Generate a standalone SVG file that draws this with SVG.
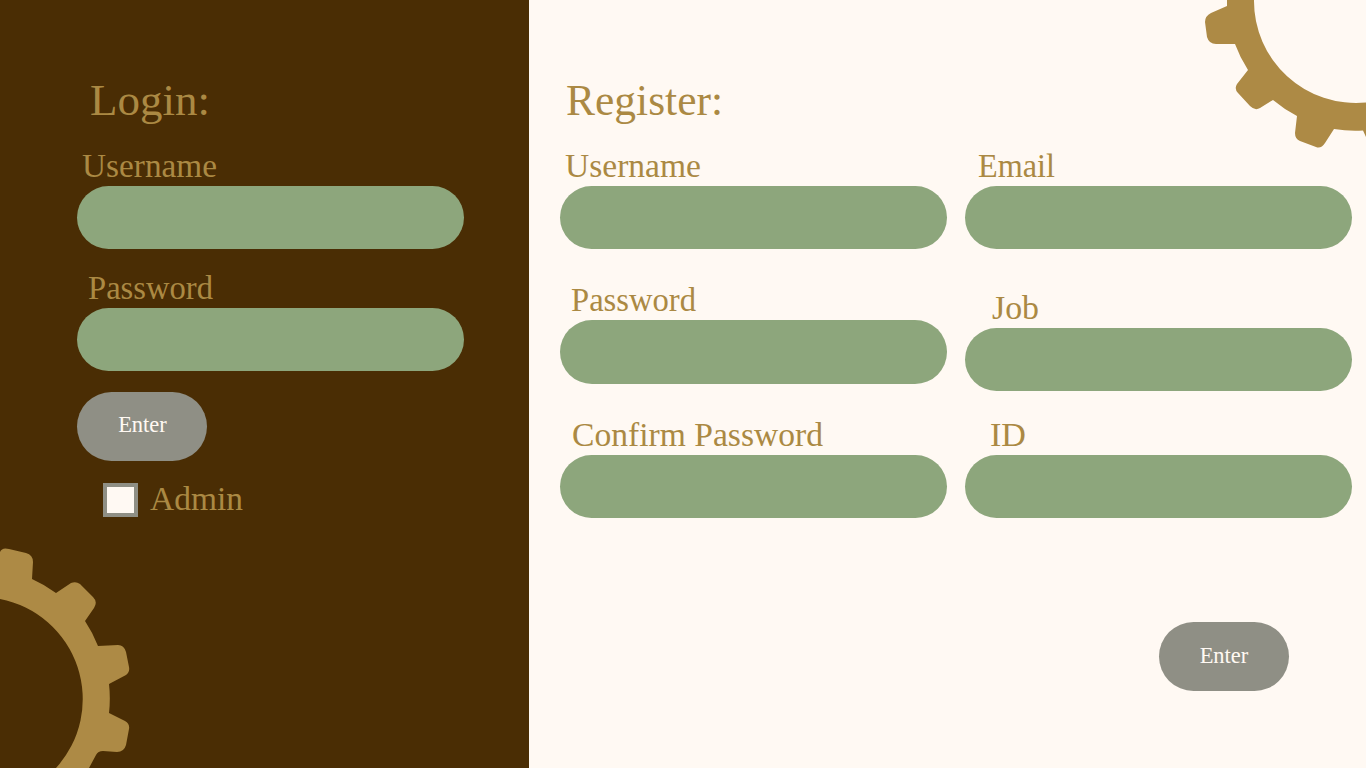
<svg xmlns="http://www.w3.org/2000/svg" width="1366" height="768" viewBox="0 0 1366 768">
<style>
.t{font-family:"Liberation Serif","Times New Roman",serif;fill:#AB8943}
.h{font-size:44px}
.l{font-size:33px}
.b{font-family:"Liberation Serif","Times New Roman",serif;font-size:22.5px;fill:#FFF9F3;text-anchor:middle}
.f{fill:#8DA67C}
.btn{fill:#8F8F85}
.g{fill:#AD8A45}
</style>
<rect width="1366" height="768" fill="#FFF9F3"/>
<rect id="login-panel" width="529" height="768" fill="#4A2D04"/>
<g id="gear-left">
<path class="g" d="M0 552Q2 547 9 549L26 553Q33 555 33 562L32 579A130 130 0 0 1 56 593L71 583Q76 581 80 584L93 597Q98 602 94 608L85 621A130 130 0 0 1 98 646L118 645Q124 645 126 652L129 667Q130 672 126 675L109 684A130 130 0 0 1 109 713L125 721Q130 724 129 729L126 745Q124 752 117 752L103 751Q98 751 96 755L89 768H56A102 102 0 0 0 0 599Z"/>
</g>
<g id="gear-right">
<path class="g" d="M1227 0V6L1211 13Q1205 16 1205 22L1207 37Q1209 44 1216 44H1235A130 130 0 0 0 1248 70L1237 84Q1234 89 1238 93L1250 106Q1255 111 1260 108L1273 100A130 130 0 0 0 1297 116L1295 133Q1295 139 1300 141L1316 147Q1321 149 1325 143L1334 129A130 130 0 0 0 1363 130.500L1366 137V102.500A102 102 0 0 1 1254 0Z"/>
</g>
<g id="login-title"><text class="t h" x="90" y="115" textLength="120" lengthAdjust="spacingAndGlyphs">Login:</text></g>
<g id="login-username"><text class="t l" x="82" y="177" textLength="135" lengthAdjust="spacingAndGlyphs">Username</text><rect class="f" x="77" y="186" width="387" height="63" rx="31.5"/></g>
<g id="login-password"><text class="t l" x="88" y="299" textLength="125" lengthAdjust="spacingAndGlyphs">Password</text><rect class="f" x="77" y="308" width="387" height="63" rx="31.5"/></g>
<g id="login-enter"><rect class="btn" x="77" y="392" width="130" height="69" rx="34.5"/><text class="b" x="142.500" y="432">Enter</text></g>
<g id="login-admin"><rect x="105" y="485" width="31" height="30" fill="#FFF9F3" stroke="#8F8F85" stroke-width="4"/><text class="t l" x="150" y="510" textLength="93" lengthAdjust="spacingAndGlyphs">Admin</text></g>
<g id="register-title"><text class="t h" x="566" y="115" textLength="157" lengthAdjust="spacingAndGlyphs">Register:</text></g>
<g id="reg-username"><text class="t l" x="565" y="177" textLength="136" lengthAdjust="spacingAndGlyphs">Username</text><rect class="f" x="560" y="186" width="387" height="63" rx="31.5"/></g>
<g id="reg-email"><text class="t l" x="978" y="177" textLength="77" lengthAdjust="spacingAndGlyphs">Email</text><rect class="f" x="965" y="186" width="387" height="63" rx="31.5"/></g>
<g id="reg-password"><text class="t l" x="571" y="311" textLength="125" lengthAdjust="spacingAndGlyphs">Password</text><rect class="f" x="560" y="320" width="387" height="64" rx="32"/></g>
<g id="reg-job"><text class="t l" x="992" y="319" textLength="47" lengthAdjust="spacingAndGlyphs">Job</text><rect class="f" x="965" y="328" width="387" height="63" rx="31.5"/></g>
<g id="reg-confirm"><text class="t l" x="572" y="446" textLength="251" lengthAdjust="spacingAndGlyphs">Confirm Password</text><rect class="f" x="560" y="455" width="387" height="63" rx="31.5"/></g>
<g id="reg-id"><text class="t l" x="990" y="446" textLength="36" lengthAdjust="spacingAndGlyphs">ID</text><rect class="f" x="965" y="455" width="387" height="63" rx="31.5"/></g>
<g id="reg-enter"><rect class="btn" x="1159" y="622" width="130" height="69" rx="34.500"/><text class="b" x="1224" y="663">Enter</text></g>
</svg>
